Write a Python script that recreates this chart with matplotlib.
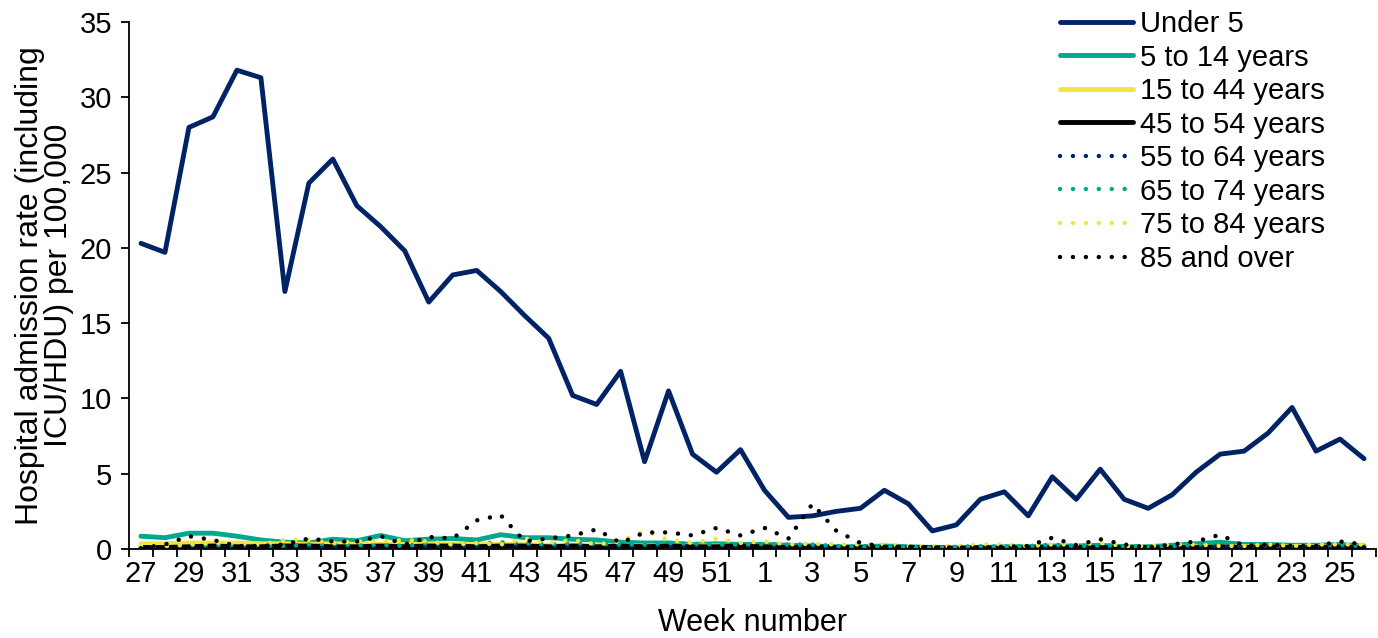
import matplotlib
matplotlib.use("Agg")
import matplotlib.pyplot as plt
from matplotlib.ticker import FixedLocator

plt.rcParams["font.family"] = ["Liberation Sans", "DejaVu Sans"]

# week numbers: 27..52 then 1..26
weeks = list(range(27, 53)) + list(range(1, 27))

under_5 = [20.3, 19.7, 28.0, 28.7, 31.8, 31.3, 17.1, 24.3, 25.9, 22.8,
           21.4, 19.8, 16.4, 18.2, 18.5, 17.1, 15.5, 14.0, 10.2, 9.6,
           11.8, 5.8, 10.5, 6.3, 5.1, 6.6,
           3.9, 2.1, 2.2, 2.5, 2.7, 3.9, 3.0, 1.2, 1.6, 3.3,
           3.8, 2.2, 4.8, 3.3, 5.3, 3.3, 2.7, 3.6, 5.1, 6.3,
           6.5, 7.7, 9.4, 6.5, 7.3, 6.0]
age_5_14 = [0.85, 0.75, 1.05, 1.05, 0.85, 0.6, 0.45, 0.4, 0.65, 0.55,
            0.9, 0.55, 0.65, 0.7, 0.6, 0.95, 0.75, 0.75, 0.65, 0.6,
            0.45, 0.4, 0.4, 0.3, 0.35, 0.3,
            0.3, 0.25, 0.2, 0.15, 0.15, 0.2, 0.15, 0.1, 0.1, 0.1,
            0.15, 0.15, 0.2, 0.2, 0.25, 0.15, 0.15, 0.25, 0.35, 0.45,
            0.3, 0.3, 0.25, 0.25, 0.3, 0.2]
age_15_44 = [0.35, 0.35, 0.4, 0.4, 0.4, 0.35, 0.35, 0.3, 0.35, 0.3,
             0.3, 0.3, 0.3, 0.3, 0.3, 0.3, 0.3, 0.25, 0.25, 0.25,
             0.2, 0.2, 0.2, 0.2, 0.2, 0.15,
             0.15, 0.1, 0.1, 0.1, 0.1, 0.1, 0.1, 0.1, 0.1, 0.1,
             0.1, 0.1, 0.1, 0.1, 0.1, 0.1, 0.1, 0.1, 0.15, 0.15,
             0.15, 0.15, 0.15, 0.15, 0.15, 0.15]
age_45_54 = [0.1, 0.1, 0.15, 0.2, 0.15, 0.15, 0.2, 0.2, 0.15, 0.15,
             0.2, 0.15, 0.2, 0.2, 0.15, 0.2, 0.2, 0.15, 0.2, 0.15,
             0.2, 0.15, 0.2, 0.15, 0.15, 0.2,
             0.15, 0.1, 0.15, 0.1, 0.1, 0.1, 0.1, 0.1, 0.05, 0.1,
             0.05, 0.1, 0.1, 0.1, 0.1, 0.1, 0.1, 0.1, 0.1, 0.15,
             0.1, 0.15, 0.1, 0.1, 0.15, 0.1]
age_55_64 = [0.05, 0.1, 0.1, 0.15, 0.2, 0.2, 0.15, 0.1, 0.15, 0.2,
             0.1, 0.2, 0.15, 0.15, 0.2, 0.25, 0.3, 0.2, 0.2, 0.3,
             0.2, 0.25, 0.2, 0.2, 0.25, 0.2,
             0.25, 0.2, 0.2, 0.1, 0.15, 0.15, 0.1, 0.1, 0.1, 0.05,
             0.1, 0.1, 0.1, 0.15, 0.1, 0.15, 0.1, 0.1, 0.15, 0.2,
             0.15, 0.15, 0.1, 0.1, 0.15, 0.1]
age_65_74 = [0.1, 0.15, 0.3, 0.25, 0.3, 0.25, 0.2, 0.3, 0.35, 0.25,
             0.3, 0.2, 0.4, 0.3, 0.35, 0.45, 0.4, 0.3, 0.4, 0.35,
             0.3, 0.3, 0.4, 0.35, 0.3, 0.3,
             0.35, 0.3, 0.3, 0.2, 0.15, 0.2, 0.15, 0.1, 0.15, 0.2,
             0.15, 0.2, 0.3, 0.2, 0.25, 0.2, 0.15, 0.2, 0.3, 0.45,
             0.3, 0.25, 0.2, 0.25, 0.3, 0.2]
age_75_84 = [0.2, 0.2, 0.3, 0.4, 0.4, 0.3, 0.6, 0.6, 0.4, 0.5,
             0.5, 0.6, 0.5, 0.3, 0.4, 0.3, 0.7, 0.4, 0.6, 0.3,
             0.5, 1.2, 0.6, 0.4, 0.7, 0.4,
             0.5, 0.3, 0.35, 0.3, 0.3, 0.3, 0.2, 0.2, 0.2, 0.3,
             0.3, 0.2, 0.3, 0.3, 0.4, 0.2, 0.2, 0.3, 0.3, 0.2,
             0.2, 0.3, 0.2, 0.3, 0.3, 0.3]
age_85_plus = [0.05, 0.3, 0.85, 0.6, 0.2, 0.2, 0.3, 0.7, 0.5, 0.5,
               0.85, 0.3, 0.8, 0.7, 1.9, 2.25, 0.5, 0.7, 0.9, 1.3,
               0.4, 1.1, 1.1, 0.9, 1.4, 0.9,
               1.4, 0.7, 3.0, 1.2, 0.4, 0.15, 0.15, 0.1, 0.1, 0.1,
               0.15, 0.2, 0.75, 0.25, 0.65, 0.3, 0.1, 0.3, 0.5, 0.95,
               0.2, 0.3, 0.2, 0.2, 0.5, 0.3]

NAVY = "#002366"
TEAL = "#00a88c"
YELLOW = "#f2e442"
BLACK = "#000000"

series = [
    ("Under 5", under_5, NAVY, "-"),
    ("5 to 14 years", age_5_14, TEAL, "-"),
    ("15 to 44 years", age_15_44, YELLOW, "-"),
    ("45 to 54 years", age_45_54, BLACK, "-"),
    ("55 to 64 years", age_55_64, NAVY, ":"),
    ("65 to 74 years", age_65_74, TEAL, ":"),
    ("75 to 84 years", age_75_84, YELLOW, ":"),
    ("85 and over", age_85_plus, BLACK, ":"),
]

fig = plt.figure(figsize=(13.78, 6.38), dpi=100)
ax = fig.add_axes([129 / 1378, 1 - 549 / 638, (1376 - 129) / 1378, (549 - 22) / 638])

x = list(range(len(weeks)))
for label, vals, color, ls in series:
    if ls == "-":
        ax.plot(x, vals, color=color, lw=3.5, label=label,
                solid_capstyle="round", solid_joinstyle="round")
    else:
        ax.plot(x, vals, color=color, lw=3.2, label=label,
                linestyle=(0, (0.01, 2.9)), dash_capstyle="round")

ax.set_xlim(-0.5, len(weeks) - 0.5)
ax.set_ylim(0, 35)
ax.set_yticks(range(0, 36, 5))
ax.set_xticks(x[::2])
ax.set_xticklabels([str(w) for w in weeks[::2]])
ax.xaxis.set_minor_locator(FixedLocator([i - 0.5 for i in range(len(weeks) + 1)]))
ax.tick_params(axis="x", which="major", length=0, labelsize=21, pad=8)
ax.tick_params(axis="x", which="minor", length=6, width=1.3, direction="out")
ax.tick_params(axis="y", length=6, width=1.3, labelsize=21, pad=6)

for side in ["top", "right"]:
    ax.spines[side].set_visible(False)
for side in ["left", "bottom"]:
    ax.spines[side].set_linewidth(1.3)

ax.set_xlabel("Week number", fontsize=22, labelpad=14)
ax.set_ylabel("Hospital admission rate (including\nICU/HDU) per 100,000",
              fontsize=23, labelpad=4, linespacing=0.95)

leg = fig.legend(loc="upper left", bbox_to_anchor=(1060 / 1378, 1 - 10 / 638),
                 frameon=False, fontsize=21, handlelength=2.5, handletextpad=0.25,
                 labelspacing=0.19, borderpad=0, borderaxespad=0)

fig.savefig("out.png", dpi=100)
